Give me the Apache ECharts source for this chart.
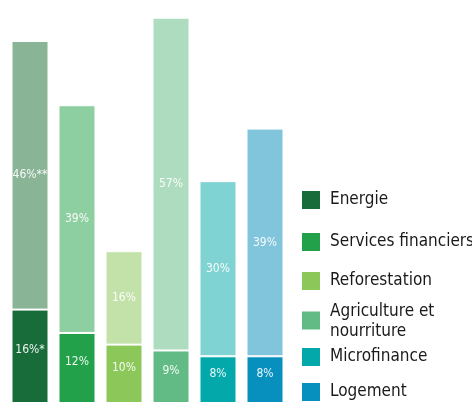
<!DOCTYPE html>
<html><head><meta charset="utf-8">
<script src="https://cdn.jsdelivr.net/npm/echarts@6/dist/echarts.min.js"></script>
<style>html,body{margin:0;padding:0;background:#fff}#c{width:472px;height:406px}</style>
</head><body><div id="c"></div>
<script>
const categories = ['Energie','Services financiers','Reforestation','Agriculture et nourriture','Microfinance','Logement'];
const legendLabels = ['Energie','Services financiers','Reforestation','Agriculture et\nnourriture','Microfinance','Logement'];
const baseValues = [16,12,10,9,8,8];
const topValues = [46,39,16,57,30,39];
const baseSuffix = ['*','','','','',''];
const topSuffix = ['**','','','','',''];
const baseColors = ['#176c3a','#22a04a','#8bc759','#62bb84','#03a8aa','#078fbd'];
const topColors = ['#8ab496','#8ecfa1','#c3e2aa','#aedcbf','#80d3d3','#80c5dc'];

const FONT = '"Liberation Sans Narrow","DejaVu Sans Condensed",sans-serif';
const chart = echarts.init(document.getElementById('c'), null, {renderer:'canvas'});

const legendY = [200, 242, 281, 320.5, 357, 392];
const graphic = [];
legendLabels.forEach((t, i) => {
  graphic.push({type:'rect', x:302, y:legendY[i]-9, shape:{x:0, y:0, width:18, height:18}, style:{fill:baseColors[i]}});
  graphic.push({type:'text', x:330, y:legendY[i] + (i===3 ? 1 : 0), style:{text:t, fill:'#1a1a1a', font:'17px ' + FONT, lineHeight:20, align:'left', verticalAlign:'middle'}});
});

chart.setOption({
  animation:false,
  grid:{left:6.5, width:282, top:6, bottom:3},
  xAxis:{type:'category', data:categories, show:false},
  yAxis:{type:'value', min:0, max:68, show:false},
  series:[
    {type:'bar', stack:'s', barWidth:37,
     data: baseValues.map((v,i)=>({value:v, itemStyle:{color:baseColors[i]}})),
     itemStyle:{borderColor:'#fff', borderWidth:1},
     label:{show:true, position:'inside', offset:[0,-6], color:'rgba(255,255,255,0.92)', fontSize:12, fontFamily:FONT,
       formatter:p=>p.value+'%'+baseSuffix[p.dataIndex]}},
    {type:'bar', stack:'s', barWidth:37,
     data: topValues.map((v,i)=>({value:v, itemStyle:{color:topColors[i]}})),
     itemStyle:{borderColor:'#fff', borderWidth:1},
     label:{show:true, position:'inside', color:'rgba(255,255,255,0.92)', fontSize:12, fontFamily:FONT,
       formatter:p=>p.value+'%'+topSuffix[p.dataIndex]}}
  ],
  graphic: graphic
});
</script></body></html>
